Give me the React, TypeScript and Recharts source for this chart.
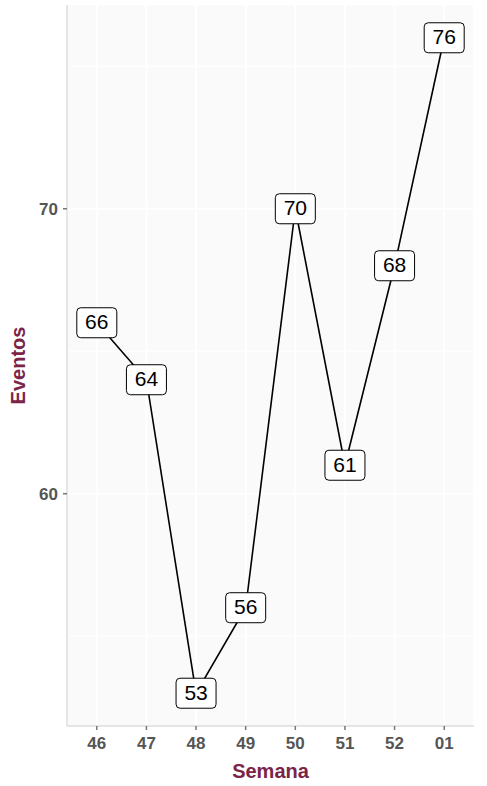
import { LineChart, Line, XAxis, YAxis, CartesianGrid, LabelList } from 'recharts';

const semanas = ['46', '47', '48', '49', '50', '51', '52', '01'];
const eventos = [66, 64, 53, 56, 70, 61, 68, 76];
const yTicks = [60, 70];
const yMinor = [55, 65, 75];

const data = semanas.map((s, i) => ({ semana: s, eventos: eventos[i] }));

const FONT = '"Liberation Sans", Arial, sans-serif';
const TITLE = '#7b2447';

function BoxLabel(props: any) {
  const { x, y, value } = props;
  const w = 40;
  const h = 30;
  return (
    <g>
      <rect x={x - w / 2} y={y - h / 2} width={w} height={h} rx={4} ry={4} fill="#ffffff" stroke="#000000" strokeWidth={1} />
      <text x={x} y={y + 1} textAnchor="middle" dominantBaseline="middle" fontFamily={FONT} fontSize={21} fill="#000000">
        {value}
      </text>
    </g>
  );
}

export default function App() {
  return (
    <div style={{ position: 'absolute', left: 0, top: 0, width: 487, height: 786, background: '#ffffff', fontFamily: FONT }}>
      <LineChart width={487} height={786} data={data} margin={{ top: 5, right: 13, bottom: 0, left: 0 }}>
        <CartesianGrid fill="#fafafa" stroke="#ffffff" strokeWidth={1} horizontalValues={yMinor} vertical={false} />
        <CartesianGrid stroke="#ffffff" strokeWidth={2} horizontalValues={yTicks} />
        <XAxis
          dataKey="semana"
          padding={{ left: 29.8, right: 29.8 }}
          axisLine={{ stroke: '#dcdcdc', strokeWidth: 1.5 }}
          tickLine={{ stroke: '#777777', strokeWidth: 1.5 }}
          tickSize={4}
          tick={{ fill: '#555555', fontSize: 17, fontWeight: 700, fontFamily: FONT, dy: 5 }}
          height={60}
          label={{ value: 'Semana', position: 'insideBottom', offset: 8, fill: TITLE, fontSize: 20, fontWeight: 700, fontFamily: FONT }}
        />
        <XAxis xAxisId="top" orientation="top" dataKey="semana" height={0} tick={false} tickLine={false} axisLine={{ stroke: '#dcdcdc', strokeWidth: 1.5 }} />
        <YAxis
          type="number"
          domain={[51.85, 77.15]}
          ticks={yTicks}
          allowDataOverflow
          width={67}
          axisLine={{ stroke: '#dcdcdc', strokeWidth: 1.5 }}
          tickLine={{ stroke: '#777777', strokeWidth: 1.5 }}
          tickSize={4}
          tick={{ fill: '#555555', fontSize: 17, fontWeight: 700, fontFamily: FONT, dx: -3 }}
          label={{ value: 'Eventos', angle: -90, position: 'insideLeft', offset: 18, fill: TITLE, fontSize: 20, fontWeight: 700, fontFamily: FONT, style: { textAnchor: 'middle' } }}
        />
        <YAxis yAxisId="right" orientation="right" width={0} domain={[0, 1]} tick={false} tickLine={false} axisLine={{ stroke: '#dcdcdc', strokeWidth: 1.5 }} />
        <Line type="linear" dataKey="eventos" stroke="#000000" strokeWidth={1.6} dot={false} isAnimationActive={false}>
          <LabelList dataKey="eventos" content={<BoxLabel />} />
        </Line>
      </LineChart>
    </div>
  );
}
